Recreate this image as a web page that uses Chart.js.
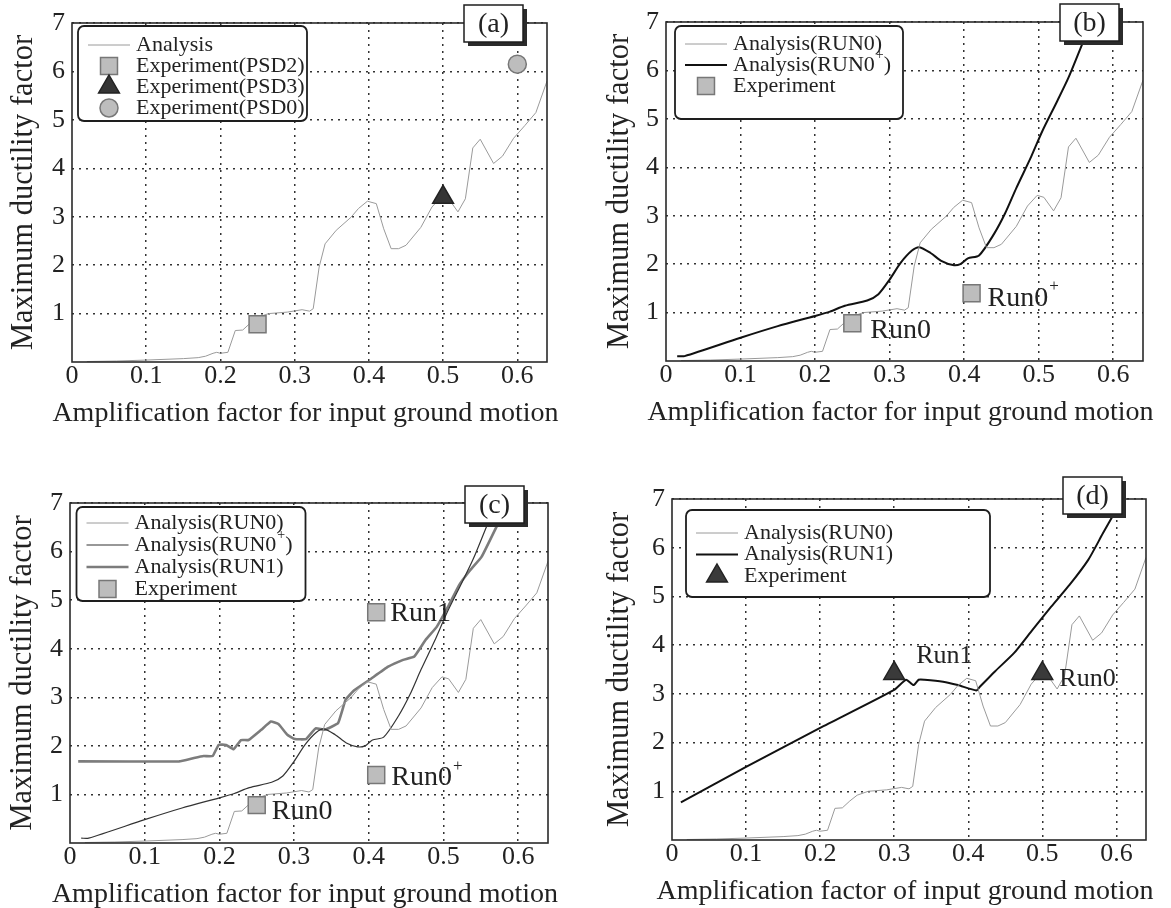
<!DOCTYPE html>
<html>
<head>
<meta charset="utf-8">
<script src="https://cdn.jsdelivr.net/npm/chart.js@4.4.1/dist/chart.umd.min.js"></script>
<style>
  body { margin: 0; background: #fff; }
  #wrap { position: relative; width: 1171px; height: 908px; overflow: hidden; }
  canvas { position: absolute; }
</style>
</head>
<body>
<div id="wrap">
  <canvas id="pa" width="585" height="430" style="left:0;top:0"></canvas>
  <canvas id="pb" width="577" height="430" style="left:594px;top:0"></canvas>
  <canvas id="pc" width="585" height="448" style="left:0;top:460px"></canvas>
  <canvas id="pd" width="571" height="448" style="left:600px;top:460px"></canvas>
</div>
<script>
// analysis RUN0 (thin grey curve, same in every panel)
const ampRun0 = [0.02,0.06,0.10,0.15,0.17,0.18,0.19,0.195,0.20,0.21,0.22,0.23,0.24,0.25,0.265,0.29,0.31,0.32,0.325,0.333,
  0.341,0.356,0.376,0.386,0.398,0.41,0.42,0.43,0.44,0.45,0.47,0.485,0.498,0.507,0.52,0.53,0.54,0.55,0.568,0.58,
  0.595,0.61,0.625,0.64];
const ductRun0 = [0.01,0.02,0.04,0.07,0.09,0.12,0.18,0.20,0.18,0.20,0.65,0.66,0.80,0.92,1.00,1.03,1.08,1.05,1.10,1.96,
  2.44,2.72,2.99,3.17,3.32,3.27,2.75,2.34,2.34,2.41,2.78,3.20,3.42,3.38,3.10,3.37,4.42,4.60,4.10,4.25,
  4.62,4.88,5.15,5.80];

// analysis RUN0+
const ampRun0p = [0.015,0.025,0.10,0.15,0.20,0.22,0.24,0.27,0.285,0.30,0.315,0.33,0.34,0.355,0.37,0.385,0.395,0.405,0.42,0.44,
  0.455,0.47,0.49,0.505,0.525,0.54,0.56,0.58];
const ductRun0p = [0.10,0.10,0.48,0.72,0.93,1.02,1.14,1.25,1.38,1.68,2.03,2.28,2.35,2.23,2.06,1.98,2.00,2.12,2.18,2.62,
  3.05,3.57,4.22,4.75,5.37,5.85,6.60,7.30];

// analysis RUN1, panel (c)
const ampRun1c = [0.011,0.146,0.166,0.179,0.191,0.199,0.209,0.219,0.229,0.239,0.256,0.269,0.279,0.291,0.301,0.316,0.329,0.341,0.359,0.369,
  0.381,0.401,0.426,0.446,0.461,0.476,0.491,0.506,0.521,0.536,0.551,0.571,0.59];
const ductRun1c = [1.68,1.68,1.75,1.79,1.79,2.02,2.02,1.93,2.12,2.12,2.33,2.50,2.45,2.23,2.14,2.14,2.36,2.33,2.47,2.95,
  3.15,3.36,3.63,3.77,3.84,4.18,4.45,4.86,5.31,5.62,5.89,6.51,7.10];

// analysis RUN1, panel (d)
const ampRun1d = [0.012,0.10,0.20,0.30,0.316,0.326,0.333,0.341,0.366,0.386,0.411,0.416,0.436,0.462,0.487,0.512,0.537,0.562,0.582,0.597,0.612];
const ductRun1d = [0.77,1.50,2.30,3.08,3.29,3.18,3.29,3.29,3.25,3.18,3.07,3.15,3.46,3.84,4.32,4.79,5.24,5.75,6.30,6.70,7.10];

// experiments
const ampPSD2 = [0.25], ductPSD2 = [0.78];
const ampPSD3 = [0.50], ductPSD3 = [3.40];
const ampPSD0 = [0.60], ductPSD0 = [6.15];
const ampExpB = [0.25, 0.41], ductExpB = [0.78, 1.40];
const runExpB = ['Run0', 'Run0^+'];
const ampExpC = [0.41, 0.25, 0.41], ductExpC = [4.75, 0.78, 1.40];
const runExpC = ['Run1', 'Run0', 'Run0^+'];
const ampExpD = [0.30, 0.50], ductExpD = [3.42, 3.42];
const runExpD = ['Run1', 'Run0'];

const xTicks = [0, 0.1, 0.2, 0.3, 0.4, 0.5, 0.6];
const yTicks = [1, 2, 3, 4, 5, 6, 7];

const serif = "'Liberation Serif', 'Times New Roman', serif";
const ink = '#222';

function pts(xs, ys) {
  return xs.map((x, i) => ({ x: x, y: ys[i] }));
}

function lineSet(label, xs, ys, color, width, tension) {
  return { label: label, data: pts(xs, ys), showLine: true, borderColor: color, borderWidth: width,
    pointRadius: 0, tension: tension || 0, order: 2 };
}

function markSet(label, xs, ys, style, radius, fill, edge, notes) {
  return { label: label, data: pts(xs, ys), showLine: false, pointStyle: style, pointRadius: radius,
    pointBackgroundColor: fill, pointBorderColor: edge, pointBorderWidth: 1.5, notes: notes, order: 0 };
}

function richText(ctx, str, x, y, size) {
  const parts = str.split('^');
  ctx.textBaseline = 'middle';
  ctx.textAlign = 'left';
  ctx.font = size + 'px ' + serif;
  ctx.fillText(parts[0], x, y);
  let cx = x + ctx.measureText(parts[0]).width;
  for (let i = 1; i < parts.length; i++) {
    const sup = parts[i].charAt(0), rest = parts[i].slice(1);
    ctx.font = Math.round(size * 0.62) + 'px ' + serif;
    ctx.fillText(sup, cx + 1, y - size * 0.42);
    cx += ctx.measureText(sup).width + 1;
    ctx.font = size + 'px ' + serif;
    ctx.fillText(rest, cx, y);
    cx += ctx.measureText(rest).width;
  }
}

function drawMarker(ctx, ds, x, y) {
  const r = ds.pointRadius;
  ctx.save();
  ctx.fillStyle = ds.pointBackgroundColor;
  ctx.strokeStyle = ds.pointBorderColor;
  ctx.lineWidth = ds.pointBorderWidth;
  ctx.beginPath();
  if (ds.pointStyle === 'rect') {
    const s = r * Math.SQRT1_2;
    ctx.rect(x - s, y - s, 2 * s, 2 * s);
  } else if (ds.pointStyle === 'triangle') {
    ctx.moveTo(x, y - r);
    ctx.lineTo(x + r * 0.866, y + r / 2);
    ctx.lineTo(x - r * 0.866, y + r / 2);
    ctx.closePath();
  } else {
    ctx.arc(x, y, r, 0, Math.PI * 2);
  }
  ctx.fill();
  ctx.stroke();
  ctx.restore();
}

// frame, x title, point labels, boxed legend and panel tag
const decor = {
  id: 'decor',
  afterDraw(chart, args, p) {
    const ctx = chart.ctx, a = chart.chartArea;
    ctx.save();
    ctx.strokeStyle = '#2a2a2a';
    ctx.lineWidth = 1.6;
    ctx.strokeRect(a.left, a.top, a.right - a.left, a.bottom - a.top);

    // x axis title, drawn here so it is not squeezed to the plot width
    ctx.fillStyle = ink;
    ctx.font = '28px ' + serif;
    ctx.textAlign = 'center';
    ctx.textBaseline = 'alphabetic';
    ctx.fillText(p.xTitle, (a.left + a.right) / 2 - 4, a.bottom + p.xTitleDrop);

    // text next to the experiment points
    chart.data.datasets.forEach((ds, i) => {
      if (!ds.notes) return;
      const meta = chart.getDatasetMeta(i);
      ds.notes.forEach((txt, j) => {
        const el = meta.data[j];
        const off = p.noteOffsets[txt] || [15, 5];
        richText(ctx, txt, el.x + off[0], el.y + off[1], p.noteSize);
      });
    });

    // legend box
    const L = p.legend;
    const bx = a.left + L.x, by = a.top + L.y;
    ctx.beginPath();
    ctx.roundRect(bx, by, L.w, L.h, 6);
    ctx.fillStyle = '#fff';
    ctx.fill();
    ctx.strokeStyle = '#1e1e1e';
    ctx.lineWidth = 1.8;
    ctx.stroke();
    chart.data.datasets.forEach((ds, i) => {
      const ry = by + L.row0 + i * L.gap;
      if (ds.showLine) {
        ctx.beginPath();
        ctx.strokeStyle = ds.borderColor;
        ctx.lineWidth = ds.borderWidth;
        ctx.moveTo(bx + 10, ry);
        ctx.lineTo(bx + 52, ry);
        ctx.stroke();
      } else {
        drawMarker(ctx, ds, bx + 31, ry);
      }
      ctx.fillStyle = ink;
      richText(ctx, ds.label, bx + 58, ry, 22);
    });

    // panel tag
    const tw = 59, th = 37;
    const tx = a.right - 24 - tw, ty = a.top - p.tagUp;
    ctx.fillStyle = '#2b2b2b';
    ctx.fillRect(tx + 4, ty + 4, tw, th);
    ctx.fillStyle = '#fff';
    ctx.fillRect(tx, ty, tw, th);
    ctx.strokeStyle = '#1e1e1e';
    ctx.lineWidth = 1.5;
    ctx.strokeRect(tx, ty, tw, th);
    ctx.fillStyle = ink;
    ctx.font = '28px ' + serif;
    ctx.textAlign = 'center';
    ctx.textBaseline = 'middle';
    ctx.fillText(p.tag, tx + tw / 2, ty + th / 2 + 1);
    ctx.restore();
  }
};

function makeChart(id, datasets, p) {
  return new Chart(document.getElementById(id), {
    type: 'scatter',
    data: { datasets: datasets },
    options: {
      responsive: false,
      animation: false,
      events: [],
      layout: { padding: { top: p.padTop, right: p.padRight, left: 0, bottom: 0 } },
      plugins: { legend: { display: false }, tooltip: { enabled: false }, decor: p },
      scales: {
        x: {
          type: 'linear', min: 0, max: 0.64,
          afterFit: s => { s.height = p.xHeight; },
          afterBuildTicks: s => { s.ticks = xTicks.map(v => ({ value: v })); },
          ticks: { autoSkip: false, maxRotation: 0, padding: 1, color: ink,
            font: { family: serif, size: 26, lineHeight: 1 },
            callback: v => String(Math.round(v * 10) / 10) },
          grid: { color: c => (c.tick && c.tick.value === 0) ? 'rgba(0,0,0,0)' : '#333', lineWidth: 1.5, drawTicks: false },
          border: { display: false, dash: [2, 5] },
          title: { display: false }
        },
        y: {
          type: 'linear', min: 0, max: 7,
          afterFit: s => { s.width = p.yWidth; },
          afterBuildTicks: s => { s.ticks = yTicks.map(v => ({ value: v })); },
          ticks: { padding: 7, color: ink, font: { family: serif, size: 26, lineHeight: 1 } },
          grid: { color: '#333', lineWidth: 1.5, drawTicks: false },
          border: { display: false, dash: [2, 5] },
          title: { display: true, text: 'Maximum ductility factor', color: ink,
            font: { family: serif, size: 30.5, lineHeight: 1 }, padding: { top: p.yTitlePad, bottom: 0 } }
        }
      }
    },
    plugins: [decor]
  });
}

const grey = '#9a9a9a';
const sqFill = '#bdbdbd', sqEdge = '#777';
const triFill = '#353535', triEdge = '#222';

makeChart('pa', [
  lineSet('Analysis', ampRun0, ductRun0, grey, 1),
  markSet('Experiment(PSD2)', ampPSD2, ductPSD2, 'rect', 12, sqFill, sqEdge),
  markSet('Experiment(PSD3)', ampPSD3, ductPSD3, 'triangle', 12, triFill, triEdge),
  markSet('Experiment(PSD0)', ampPSD0, ductPSD0, 'circle', 9, sqFill, sqEdge)
], { padTop: 23, padRight: 38, xHeight: 68, yWidth: 72, xTitleDrop: 59, yTitlePad: 8.5,
  xTitle: 'Amplification factor for input ground motion', tag: '(a)', tagUp: 18,
  legend: { x: 6, y: 3, w: 229, h: 95, row0: 19, gap: 21 }, noteSize: 28, noteOffsets: {} });

makeChart('pb', [
  lineSet('Analysis(RUN0)', ampRun0, ductRun0, grey, 1),
  lineSet('Analysis(RUN0^+)', ampRun0p, ductRun0p, '#111', 2, 0.25),
  markSet('Experiment', ampExpB, ductExpB, 'rect', 12, sqFill, sqEdge, runExpB)
], { padTop: 22, padRight: 28, xHeight: 69, yWidth: 72, xTitleDrop: 59, yTitlePad: 10.5,
  xTitle: 'Amplification factor for input ground motion', tag: '(b)', tagUp: 18,
  legend: { x: 9, y: 4, w: 228, h: 93, row0: 18, gap: 21 }, noteSize: 28,
  noteOffsets: { 'Run0': [18, 7], 'Run0^+': [16, 5] } });

makeChart('pc', [
  lineSet('Analysis(RUN0)', ampRun0, ductRun0, grey, 1),
  lineSet('Analysis(RUN0^+)', ampRun0p, ductRun0p, '#333', 1.2, 0.25),
  lineSet('Analysis(RUN1)', ampRun1c, ductRun1c, '#7c7c7c', 2.6, 0.1),
  markSet('Experiment', ampExpC, ductExpC, 'rect', 12, sqFill, sqEdge, runExpC)
], { padTop: 43, padRight: 37, xHeight: 65, yWidth: 70, xTitleDrop: 59, yTitlePad: 7.5,
  xTitle: 'Amplification factor for input ground motion', tag: '(c)', tagUp: 17,
  legend: { x: 6.5, y: 4, w: 229, h: 94, row0: 16, gap: 22 }, noteSize: 28,
  noteOffsets: { 'Run1': [14, 1], 'Run0': [15, 7], 'Run0^+': [15, 3] } });

makeChart('pd', [
  lineSet('Analysis(RUN0)', ampRun0, ductRun0, grey, 1),
  lineSet('Analysis(RUN1)', ampRun1d, ductRun1d, '#111', 2, 0.2),
  markSet('Experiment', ampExpD, ductExpD, 'triangle', 12, '#3a3a3a', triEdge, runExpD)
], { padTop: 39, padRight: 25, xHeight: 68, yWidth: 72, xTitleDrop: 59, yTitlePad: 4.5,
  xTitle: 'Amplification factor of input ground motion', tag: '(d)', tagUp: 22,
  legend: { x: 14, y: 11, w: 304, h: 87, row0: 23, gap: 21.5 }, noteSize: 26,
  noteOffsets: { 'Run1': [22, -17], 'Run0': [17, 6] } });
</script>
</body>
</html>
